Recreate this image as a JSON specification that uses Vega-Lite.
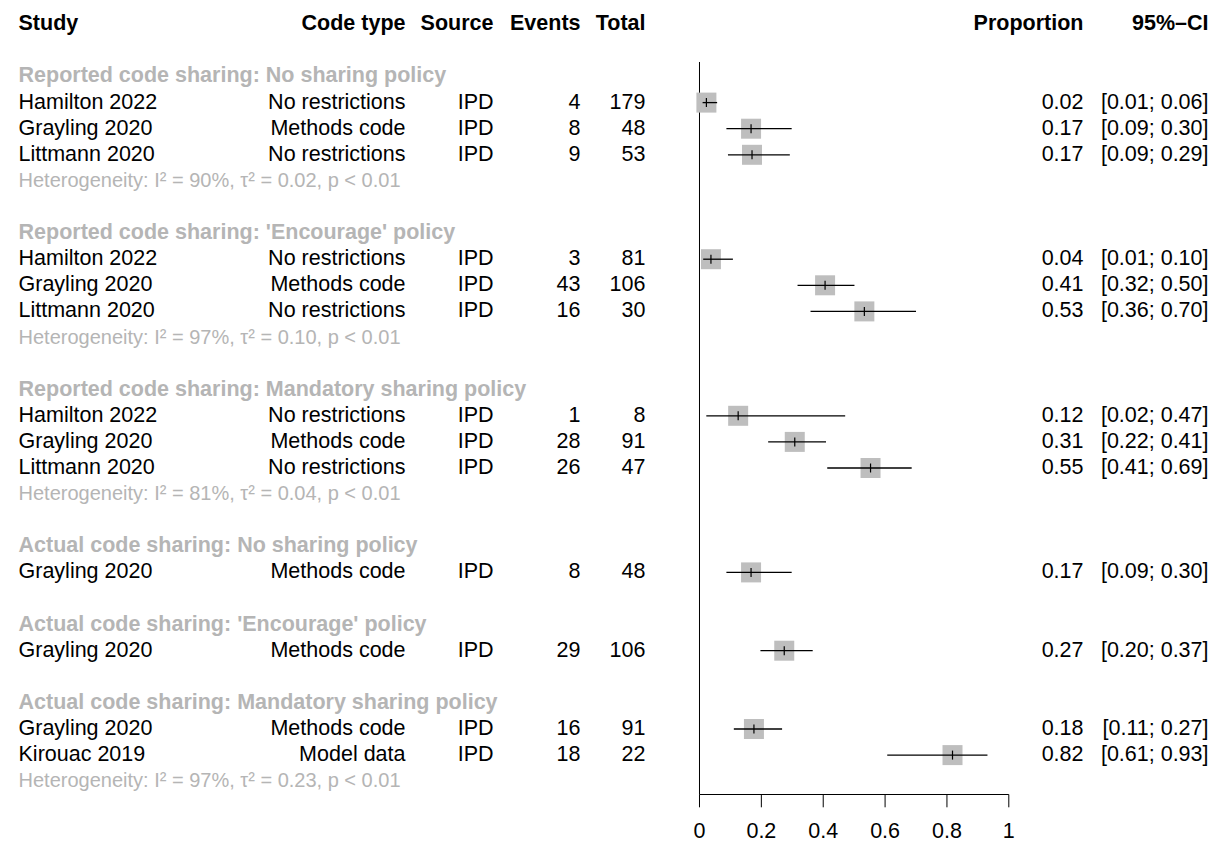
{
  "$schema": "https://vega.github.io/schema/vega-lite/v6.json",
  "width": 1221,
  "height": 844,
  "padding": 0,
  "autosize": {"type": "none"},
  "background": "white",
  "config": {"view": {"stroke": null}, "axis": {"disable": true}, "text": {"font": "Liberation Sans", "fontSize": 21.5, "baseline": "middle", "color": "black"}},
  "datasets": {
    "studies": [
      {"r": 1, "study": "Hamilton 2022", "codetype": "No restrictions", "source": "IPD", "events": 4, "total": 179, "est": 0.0223, "lo": 0.01, "hi": 0.057, "prop": "0.02", "ci": "[0.01; 0.06]"},
      {"r": 2, "study": "Grayling 2020", "codetype": "Methods code", "source": "IPD", "events": 8, "total": 48, "est": 0.1667, "lo": 0.087, "hi": 0.298, "prop": "0.17", "ci": "[0.09; 0.30]"},
      {"r": 3, "study": "Littmann 2020", "codetype": "No restrictions", "source": "IPD", "events": 9, "total": 53, "est": 0.1698, "lo": 0.092, "hi": 0.292, "prop": "0.17", "ci": "[0.09; 0.29]"},
      {"r": 7, "study": "Hamilton 2022", "codetype": "No restrictions", "source": "IPD", "events": 3, "total": 81, "est": 0.037, "lo": 0.012, "hi": 0.108, "prop": "0.04", "ci": "[0.01; 0.10]"},
      {"r": 8, "study": "Grayling 2020", "codetype": "Methods code", "source": "IPD", "events": 43, "total": 106, "est": 0.406, "lo": 0.317, "hi": 0.501, "prop": "0.41", "ci": "[0.32; 0.50]"},
      {"r": 9, "study": "Littmann 2020", "codetype": "No restrictions", "source": "IPD", "events": 16, "total": 30, "est": 0.533, "lo": 0.359, "hi": 0.700, "prop": "0.53", "ci": "[0.36; 0.70]"},
      {"r": 13, "study": "Hamilton 2022", "codetype": "No restrictions", "source": "IPD", "events": 1, "total": 8, "est": 0.125, "lo": 0.022, "hi": 0.471, "prop": "0.12", "ci": "[0.02; 0.47]"},
      {"r": 14, "study": "Grayling 2020", "codetype": "Methods code", "source": "IPD", "events": 28, "total": 91, "est": 0.308, "lo": 0.222, "hi": 0.409, "prop": "0.31", "ci": "[0.22; 0.41]"},
      {"r": 15, "study": "Littmann 2020", "codetype": "No restrictions", "source": "IPD", "events": 26, "total": 47, "est": 0.553, "lo": 0.413, "hi": 0.686, "prop": "0.55", "ci": "[0.41; 0.69]"},
      {"r": 19, "study": "Grayling 2020", "codetype": "Methods code", "source": "IPD", "events": 8, "total": 48, "est": 0.1667, "lo": 0.087, "hi": 0.298, "prop": "0.17", "ci": "[0.09; 0.30]"},
      {"r": 22, "study": "Grayling 2020", "codetype": "Methods code", "source": "IPD", "events": 29, "total": 106, "est": 0.274, "lo": 0.197, "hi": 0.366, "prop": "0.27", "ci": "[0.20; 0.37]"},
      {"r": 25, "study": "Grayling 2020", "codetype": "Methods code", "source": "IPD", "events": 16, "total": 91, "est": 0.176, "lo": 0.111, "hi": 0.267, "prop": "0.18", "ci": "[0.11; 0.27]"},
      {"r": 26, "study": "Kirouac 2019", "codetype": "Model data", "source": "IPD", "events": 18, "total": 22, "est": 0.818, "lo": 0.607, "hi": 0.931, "prop": "0.82", "ci": "[0.61; 0.93]"}
    ],
    "groups": [
      {"r": 0, "label": "Reported code sharing: No sharing policy"},
      {"r": 6, "label": "Reported code sharing: 'Encourage' policy"},
      {"r": 12, "label": "Reported code sharing: Mandatory sharing policy"},
      {"r": 18, "label": "Actual code sharing: No sharing policy"},
      {"r": 21, "label": "Actual code sharing: 'Encourage' policy"},
      {"r": 24, "label": "Actual code sharing: Mandatory sharing policy"}
    ],
    "het": [
      {"r": 4, "label": "Heterogeneity: I² = 90%, τ² = 0.02, p < 0.01"},
      {"r": 10, "label": "Heterogeneity: I² = 97%, τ² = 0.10, p < 0.01"},
      {"r": 16, "label": "Heterogeneity: I² = 81%, τ² = 0.04, p < 0.01"},
      {"r": 27, "label": "Heterogeneity: I² = 97%, τ² = 0.23, p < 0.01"}
    ],
    "header": [
      {"r": -2.02, "study": "Study", "codetype": "Code type", "source": "Source", "events": "Events", "total": "Total", "prop": "Proportion", "ci": "95%–CI"}
    ],
    "ticks": [
      {"t": 0, "lab": "0"}, {"t": 0.2, "lab": "0.2"}, {"t": 0.4, "lab": "0.4"},
      {"t": 0.6, "lab": "0.6"}, {"t": 0.8, "lab": "0.8"}, {"t": 1, "lab": "1"}
    ]
  },
  "layer": [
    {
      "data": {"name": "ticks"},
      "transform": [{"filter": "datum.t == 0"}],
      "mark": {"type": "rule", "color": "black", "strokeWidth": 1},
      "encoding": {
        "x": {"field": "t", "type": "quantitative", "scale": {"domain": [-2.26156, 1.68607], "nice": false, "zero": false}, "axis": null},
        "y": {"datum": -0.556, "type": "quantitative", "scale": {"domain": [-2.931, 29.406], "nice": false, "zero": false, "reverse": true}, "axis": null},
        "y2": {"datum": 27.51}
      }
    },
    {
      "data": {"name": "ticks"},
      "transform": [{"filter": "datum.t == 0"}],
      "mark": {"type": "rule", "color": "black", "strokeWidth": 1},
      "encoding": {
        "x": {"datum": 0, "type": "quantitative", "scale": {"domain": [-2.26156, 1.68607], "nice": false, "zero": false}, "axis": null},
        "x2": {"datum": 1},
        "y": {"datum": 27.51, "type": "quantitative", "scale": {"domain": [-2.931, 29.406], "nice": false, "zero": false, "reverse": true}, "axis": null}
      }
    },
    {
      "data": {"name": "ticks"},
      "mark": {"type": "rule", "color": "black", "strokeWidth": 1},
      "encoding": {
        "x": {"field": "t", "type": "quantitative", "scale": {"domain": [-2.26156, 1.68607], "nice": false, "zero": false}, "axis": null},
        "y": {"datum": 27.51, "type": "quantitative", "scale": {"domain": [-2.931, 29.406], "nice": false, "zero": false, "reverse": true}, "axis": null},
        "y2": {"datum": 28.0}
      }
    },
    {
      "data": {"name": "ticks"},
      "mark": {"type": "text", "align": "center"},
      "encoding": {
        "x": {"field": "t", "type": "quantitative", "scale": {"domain": [-2.26156, 1.68607], "nice": false, "zero": false}, "axis": null},
        "y": {"datum": 28.93, "type": "quantitative", "scale": {"domain": [-2.931, 29.406], "nice": false, "zero": false, "reverse": true}, "axis": null},
        "text": {"field": "lab"}
      }
    },
    {
      "data": {"name": "studies"},
      "mark": {"type": "square", "size": 400, "color": "#BEBEBE", "opacity": 1, "filled": true},
      "encoding": {
        "x": {"field": "est", "type": "quantitative", "scale": {"domain": [-2.26156, 1.68607], "nice": false, "zero": false}, "axis": null},
        "y": {"field": "r", "type": "quantitative", "scale": {"domain": [-2.931, 29.406], "nice": false, "zero": false, "reverse": true}, "axis": null}
      }
    },
    {
      "data": {"name": "studies"},
      "mark": {"type": "rule", "color": "black", "strokeWidth": 1.3},
      "encoding": {
        "x": {"field": "lo", "type": "quantitative", "scale": {"domain": [-2.26156, 1.68607], "nice": false, "zero": false}, "axis": null},
        "x2": {"field": "hi"},
        "y": {"field": "r", "type": "quantitative", "scale": {"domain": [-2.931, 29.406], "nice": false, "zero": false, "reverse": true}, "axis": null}
      }
    },
    {
      "data": {"name": "studies"},
      "mark": {"type": "tick", "orient": "vertical", "size": 9, "thickness": 1.2, "color": "black", "opacity": 1},
      "encoding": {
        "x": {"field": "est", "type": "quantitative", "scale": {"domain": [-2.26156, 1.68607], "nice": false, "zero": false}, "axis": null},
        "y": {"field": "r", "type": "quantitative", "scale": {"domain": [-2.931, 29.406], "nice": false, "zero": false, "reverse": true}, "axis": null}
      }
    },
    {
      "data": {"name": "studies"},
      "mark": {"type": "text", "align": "left"},
      "encoding": {
        "x": {"datum": -2.2017, "type": "quantitative", "scale": {"domain": [-2.26156, 1.68607], "nice": false, "zero": false}, "axis": null},
        "y": {"field": "r", "type": "quantitative", "scale": {"domain": [-2.931, 29.406], "nice": false, "zero": false, "reverse": true}, "axis": null},
        "text": {"field": "study"}
      }
    },
    {
      "data": {"name": "studies"},
      "mark": {"type": "text", "align": "right"},
      "encoding": {
        "x": {"datum": -0.9505, "type": "quantitative", "scale": {"domain": [-2.26156, 1.68607], "nice": false, "zero": false}, "axis": null},
        "y": {"field": "r", "type": "quantitative", "scale": {"domain": [-2.931, 29.406], "nice": false, "zero": false, "reverse": true}, "axis": null},
        "text": {"field": "codetype"}
      }
    },
    {
      "data": {"name": "studies"},
      "mark": {"type": "text", "align": "right"},
      "encoding": {
        "x": {"datum": -0.666, "type": "quantitative", "scale": {"domain": [-2.26156, 1.68607], "nice": false, "zero": false}, "axis": null},
        "y": {"field": "r", "type": "quantitative", "scale": {"domain": [-2.931, 29.406], "nice": false, "zero": false, "reverse": true}, "axis": null},
        "text": {"field": "source"}
      }
    },
    {
      "data": {"name": "studies"},
      "mark": {"type": "text", "align": "right"},
      "encoding": {
        "x": {"datum": -0.3847, "type": "quantitative", "scale": {"domain": [-2.26156, 1.68607], "nice": false, "zero": false}, "axis": null},
        "y": {"field": "r", "type": "quantitative", "scale": {"domain": [-2.931, 29.406], "nice": false, "zero": false, "reverse": true}, "axis": null},
        "text": {"field": "events"}
      }
    },
    {
      "data": {"name": "studies"},
      "mark": {"type": "text", "align": "right"},
      "encoding": {
        "x": {"datum": -0.1746, "type": "quantitative", "scale": {"domain": [-2.26156, 1.68607], "nice": false, "zero": false}, "axis": null},
        "y": {"field": "r", "type": "quantitative", "scale": {"domain": [-2.931, 29.406], "nice": false, "zero": false, "reverse": true}, "axis": null},
        "text": {"field": "total"}
      }
    },
    {
      "data": {"name": "studies"},
      "mark": {"type": "text", "align": "right"},
      "encoding": {
        "x": {"datum": 1.2415, "type": "quantitative", "scale": {"domain": [-2.26156, 1.68607], "nice": false, "zero": false}, "axis": null},
        "y": {"field": "r", "type": "quantitative", "scale": {"domain": [-2.931, 29.406], "nice": false, "zero": false, "reverse": true}, "axis": null},
        "text": {"field": "prop"}
      }
    },
    {
      "data": {"name": "studies"},
      "mark": {"type": "text", "align": "right"},
      "encoding": {
        "x": {"datum": 1.6457, "type": "quantitative", "scale": {"domain": [-2.26156, 1.68607], "nice": false, "zero": false}, "axis": null},
        "y": {"field": "r", "type": "quantitative", "scale": {"domain": [-2.931, 29.406], "nice": false, "zero": false, "reverse": true}, "axis": null},
        "text": {"field": "ci"}
      }
    },
    {
      "data": {"name": "groups"},
      "mark": {"type": "text", "align": "left", "fontWeight": "bold", "color": "#B5B5B5"},
      "encoding": {
        "x": {"datum": -2.2017, "type": "quantitative", "scale": {"domain": [-2.26156, 1.68607], "nice": false, "zero": false}, "axis": null},
        "y": {"field": "r", "type": "quantitative", "scale": {"domain": [-2.931, 29.406], "nice": false, "zero": false, "reverse": true}, "axis": null},
        "text": {"field": "label"}
      }
    },
    {
      "data": {"name": "het"},
      "mark": {"type": "text", "align": "left", "fontSize": 20, "color": "#B5B5B5"},
      "encoding": {
        "x": {"datum": -2.2017, "type": "quantitative", "scale": {"domain": [-2.26156, 1.68607], "nice": false, "zero": false}, "axis": null},
        "y": {"field": "r", "type": "quantitative", "scale": {"domain": [-2.931, 29.406], "nice": false, "zero": false, "reverse": true}, "axis": null},
        "text": {"field": "label"}
      }
    },
    {
      "data": {"name": "header"},
      "mark": {"type": "text", "align": "left", "fontWeight": "bold"},
      "encoding": {
        "x": {"datum": -2.2017, "type": "quantitative", "scale": {"domain": [-2.26156, 1.68607], "nice": false, "zero": false}, "axis": null},
        "y": {"field": "r", "type": "quantitative", "scale": {"domain": [-2.931, 29.406], "nice": false, "zero": false, "reverse": true}, "axis": null},
        "text": {"field": "study"}
      }
    },
    {
      "data": {"name": "header"},
      "mark": {"type": "text", "align": "right", "fontWeight": "bold"},
      "encoding": {
        "x": {"datum": -0.9505, "type": "quantitative", "scale": {"domain": [-2.26156, 1.68607], "nice": false, "zero": false}, "axis": null},
        "y": {"field": "r", "type": "quantitative", "scale": {"domain": [-2.931, 29.406], "nice": false, "zero": false, "reverse": true}, "axis": null},
        "text": {"field": "codetype"}
      }
    },
    {
      "data": {"name": "header"},
      "mark": {"type": "text", "align": "right", "fontWeight": "bold"},
      "encoding": {
        "x": {"datum": -0.666, "type": "quantitative", "scale": {"domain": [-2.26156, 1.68607], "nice": false, "zero": false}, "axis": null},
        "y": {"field": "r", "type": "quantitative", "scale": {"domain": [-2.931, 29.406], "nice": false, "zero": false, "reverse": true}, "axis": null},
        "text": {"field": "source"}
      }
    },
    {
      "data": {"name": "header"},
      "mark": {"type": "text", "align": "right", "fontWeight": "bold"},
      "encoding": {
        "x": {"datum": -0.3847, "type": "quantitative", "scale": {"domain": [-2.26156, 1.68607], "nice": false, "zero": false}, "axis": null},
        "y": {"field": "r", "type": "quantitative", "scale": {"domain": [-2.931, 29.406], "nice": false, "zero": false, "reverse": true}, "axis": null},
        "text": {"field": "events"}
      }
    },
    {
      "data": {"name": "header"},
      "mark": {"type": "text", "align": "right", "fontWeight": "bold"},
      "encoding": {
        "x": {"datum": -0.1746, "type": "quantitative", "scale": {"domain": [-2.26156, 1.68607], "nice": false, "zero": false}, "axis": null},
        "y": {"field": "r", "type": "quantitative", "scale": {"domain": [-2.931, 29.406], "nice": false, "zero": false, "reverse": true}, "axis": null},
        "text": {"field": "total"}
      }
    },
    {
      "data": {"name": "header"},
      "mark": {"type": "text", "align": "right", "fontWeight": "bold"},
      "encoding": {
        "x": {"datum": 1.2415, "type": "quantitative", "scale": {"domain": [-2.26156, 1.68607], "nice": false, "zero": false}, "axis": null},
        "y": {"field": "r", "type": "quantitative", "scale": {"domain": [-2.931, 29.406], "nice": false, "zero": false, "reverse": true}, "axis": null},
        "text": {"field": "prop"}
      }
    },
    {
      "data": {"name": "header"},
      "mark": {"type": "text", "align": "right", "fontWeight": "bold"},
      "encoding": {
        "x": {"datum": 1.6457, "type": "quantitative", "scale": {"domain": [-2.26156, 1.68607], "nice": false, "zero": false}, "axis": null},
        "y": {"field": "r", "type": "quantitative", "scale": {"domain": [-2.931, 29.406], "nice": false, "zero": false, "reverse": true}, "axis": null},
        "text": {"field": "ci"}
      }
    }
  ]
}
